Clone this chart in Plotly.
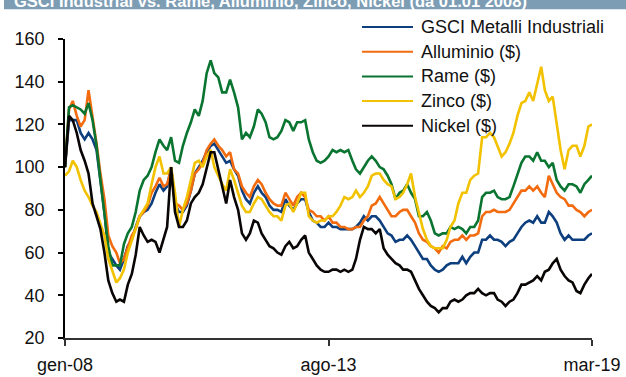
import pandas as pd
import plotly.graph_objects as go

# Monthly index levels (01.01.2008 = 100), Jan 2008 .. Mar 2019
months = pd.date_range("2008-01-01", "2019-03-01", freq="MS")

gsci = [100, 122, 122, 122, 116, 113, 116, 113, 108, 94, 79, 60, 57, 54, 52, 57, 63, 66, 72, 77,
        79, 80, 83, 88, 92, 89, 91, 100, 83, 79, 79, 82, 89, 97, 100, 103, 107, 110, 111, 108,
        105, 102, 103, 99, 96, 89, 85, 83, 88, 91, 88, 86, 82, 80, 80, 79, 85, 82, 80, 83,
        85, 85, 79, 75, 74, 72, 72, 74, 72, 72, 71, 71, 71, 71, 72, 74, 77, 75, 77, 77,
        75, 72, 69, 68, 65, 66, 66, 68, 66, 63, 60, 57, 57, 54, 52, 51, 52, 54, 55, 55,
        55, 58, 55, 58, 60, 60, 66, 66, 68, 66, 66, 65, 63, 65, 66, 69, 72, 74, 75, 74,
        77, 74, 74, 79, 77, 74, 69, 66, 68, 66, 66, 66, 66, 68, 69]

alluminio = [100, 127, 131, 124, 119, 122, 136, 124, 111, 97, 85, 68, 63, 60, 55, 57, 63, 68, 71, 77,
             79, 82, 88, 91, 95, 91, 92, 99, 83, 82, 80, 83, 89, 97, 99, 102, 108, 111, 113, 110,
             108, 105, 107, 99, 97, 91, 88, 86, 91, 94, 92, 88, 85, 83, 82, 82, 88, 85, 82, 86,
             88, 86, 80, 79, 77, 77, 75, 77, 74, 74, 72, 72, 71, 71, 72, 72, 75, 77, 82, 83,
             86, 83, 80, 77, 77, 79, 80, 80, 77, 74, 69, 66, 65, 63, 62, 60, 63, 62, 65, 66,
             66, 68, 66, 68, 68, 69, 77, 79, 79, 80, 79, 79, 79, 80, 83, 86, 89, 89, 91, 89,
             91, 88, 86, 96, 92, 88, 86, 85, 82, 82, 80, 79, 77, 79, 80]

rame = [100, 128, 129, 128, 127, 125, 130, 122, 110, 94, 79, 63, 54, 54, 54, 64, 69, 72, 79, 89,
        94, 96, 100, 107, 113, 110, 108, 114, 103, 102, 110, 116, 121, 127, 124, 131, 144, 150, 144, 142,
        135, 135, 141, 135, 128, 113, 116, 114, 119, 127, 125, 121, 114, 113, 114, 117, 122, 121, 117, 121,
        121, 122, 113, 107, 103, 102, 103, 105, 108, 107, 108, 107, 108, 103, 99, 97, 100, 103, 105, 103,
        100, 99, 96, 92, 85, 88, 89, 92, 88, 85, 77, 77, 79, 75, 69, 68, 69, 69, 72, 71,
        72, 71, 69, 72, 72, 75, 86, 88, 88, 89, 86, 85, 85, 86, 91, 97, 102, 105, 105, 103,
        107, 103, 103, 100, 102, 94, 91, 89, 92, 92, 91, 88, 92, 94, 96]

zinco = [96, 98, 103, 100, 94, 89, 86, 82, 79, 73, 68, 57, 51, 46, 48, 52, 60, 66, 72, 77,
         80, 83, 92, 100, 105, 97, 97, 100, 88, 72, 80, 86, 94, 102, 103, 100, 105, 108, 100, 96,
         92, 89, 99, 94, 88, 82, 79, 79, 83, 86, 85, 82, 79, 77, 77, 75, 82, 83, 79, 83,
         88, 88, 77, 75, 74, 75, 75, 77, 77, 79, 82, 86, 85, 86, 89, 86, 88, 91, 96, 97,
         97, 94, 92, 91, 85, 86, 88, 92, 97, 86, 79, 71, 66, 63, 62, 62, 62, 66, 72, 75,
         83, 88, 88, 94, 96, 97, 114, 114, 116, 114, 110, 105, 107, 111, 116, 124, 130, 131, 135, 131,
         139, 147, 136, 131, 133, 119, 108, 99, 108, 110, 110, 105, 110, 119, 120]

nickel = [100, 124, 122, 116, 108, 103, 97, 83, 77, 71, 60, 47, 41, 37, 38, 37, 45, 50, 59, 72,
          68, 65, 66, 65, 60, 66, 72, 100, 79, 72, 72, 75, 83, 86, 88, 92, 100, 107, 107, 99,
          91, 83, 94, 86, 80, 69, 66, 69, 75, 74, 69, 66, 63, 62, 60, 59, 63, 65, 62, 63,
          66, 68, 60, 57, 54, 52, 51, 51, 52, 52, 51, 52, 51, 52, 57, 66, 72, 71, 71, 69,
          71, 62, 59, 57, 55, 54, 52, 52, 51, 47, 43, 40, 37, 35, 34, 32, 34, 34, 37, 38,
          37, 38, 40, 41, 41, 43, 41, 40, 41, 41, 38, 37, 35, 37, 38, 41, 45, 45, 46, 47,
          49, 47, 51, 52, 55, 57, 52, 49, 47, 46, 42, 41, 45, 48, 50]

series_names = ["GSCI Metalli Industriali", "Alluminio ($)", "Rame ($)", "Zinco ($)", "Nickel ($)"]
series_values = [gsci, alluminio, rame, zinco, nickel]
series_colors = ["#0D3F7F", "#F26B0F", "#0A7431", "#F2C200", "#0A0505"]

tick_dates = ["2008-01-01", "2013-08-01", "2019-03-01"]
tick_labels = ["gen-08", "ago-13", "mar-19"]
title_text = "GSCI Industrial vs. Rame, Alluminio, Zinco, Nickel (da 01.01 2008)"

W, H = 626, 377
ML, MR, MT, MB = 65, 34, 39, 39
PW, PH = W - ML - MR, H - MT - MB


def px_x(px):
    return (px - ML) / PW


def px_y(py):
    return (H - MB - py) / PH


fig = go.Figure()
for name, vals, col in zip(series_names, series_values, series_colors):
    fig.add_trace(go.Scatter(x=months, y=vals, mode="lines", name=name,
                             line=dict(color=col, width=2.6), showlegend=False))

shapes = []
annotations = []

# title band
shapes.append(dict(type="rect", xref="paper", yref="paper", x0=px_x(4), x1=px_x(W + 2),
                   y0=px_y(9.3), y1=px_y(-3), fillcolor="#7D9DB4", line=dict(width=0), layer="above"))
annotations.append(dict(xref="paper", yref="paper", x=px_x(13), y=px_y(11), xanchor="left",
                        yanchor="bottom", showarrow=False, text=f"<b>{title_text}</b>",
                        font=dict(family="Liberation Sans", size=16.5, color="white"), borderpad=0))

# legend
row_y = [27, 51.7, 76.4, 101.1, 125.8]
for name, col, ry in zip(series_names, series_colors, row_y):
    shapes.append(dict(type="line", xref="paper", yref="paper", x0=px_x(362), x1=px_x(413),
                       y0=px_y(ry), y1=px_y(ry), line=dict(color=col, width=2)))
    annotations.append(dict(xref="paper", yref="paper", x=px_x(419), y=px_y(ry), xanchor="left",
                            yanchor="middle", showarrow=False, text=name,
                            font=dict(family="Liberation Sans", size=18, color="#111111")))

fig.update_layout(
    width=W, height=H,
    margin=dict(l=ML, r=MR, t=MT, b=MB, pad=0, autoexpand=False),
    paper_bgcolor="white", plot_bgcolor="white",
    shapes=shapes, annotations=annotations,
    font=dict(family="Liberation Sans", size=18, color="#111111"),
    xaxis=dict(type="date", range=[tick_dates[0], tick_dates[-1]], automargin=False,
               tickmode="array", tickvals=tick_dates, ticktext=tick_labels,
               showgrid=False, zeroline=False, showline=True, linecolor="#333333", linewidth=1.5,
               ticks="outside", ticklen=6, tickwidth=1.5, tickcolor="#333333",
               ticklabelstandoff=4),
    yaxis=dict(range=[20, 160], dtick=20, tick0=20, automargin=False,
               showgrid=False, zeroline=False, showline=True, linecolor="#000000", linewidth=1.5,
               ticks="outside", ticklen=5, tickwidth=1.5, tickcolor="#000000",
               ticklabelstandoff=10),
)

fig.write_html("out.html")
